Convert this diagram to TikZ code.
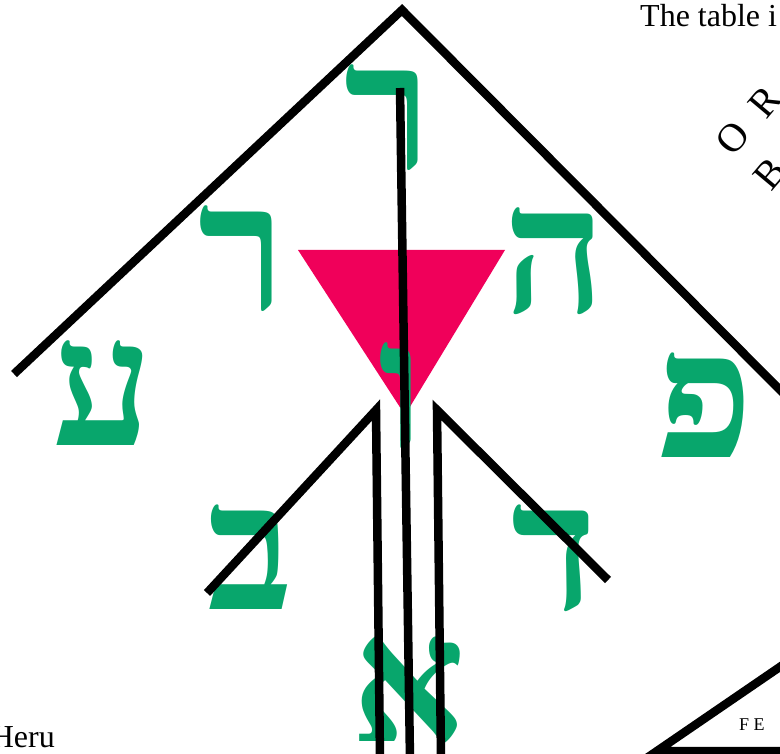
\documentclass[tikz,border=0pt]{standalone}
\usepackage{fontspec}
\setmainfont{Liberation Serif}
\newfontfamily\hebfont[Script=Hebrew]{Liberation Serif}
\TeXXeTstate=1
\usetikzlibrary{positioning}
\definecolor{lettergreen}{RGB}{8,166,108}
\definecolor{trimagenta}{RGB}{240,0,90}

\begin{document}
\begin{tikzpicture}[x=1pt,y=-1pt,
    heb/.style={text=lettergreen, inner sep=0pt, font=\hebfont\bfseries\fontsize{178}{178}\selectfont},
    bar/.style={line width=8.5pt, black},
    txt/.style={inner sep=0pt, font=\fontsize{32}{34}\selectfont},
    rotl/.style={inner sep=0pt, font=\fontsize{40}{40}\selectfont}
]
\useasboundingbox (0,0) rectangle (780,754);

% triangle
\fill[trimagenta] (298,250) -- (505,250) -- (405,415) -- cycle;

% letters
\node[heb] (reshtop) at (388,118) {\beginR ר\endR};
\node[heb] (resh) at (242,259) {\beginR ר\endR};
\node[heb] (he) at (555,261) {\beginR ה\endR};
\node[heb] (ayin) at (103,393) {\beginR ע\endR};
\node[heb] (pe) at (705,405) {\beginR פ\endR};
\node[heb] (vav) at (401,396) {\beginR ו\endR};
\node[heb] (beth) at (250,557) {\beginR ב\endR};
\node[heb] (daleth) at (554,558) {\beginR ד\endR};
\node[heb] (aleph) at (409,690) {\beginR א\endR};

% lines
\coordinate (apex) at (402,10);
\coordinate (wingl) at (14,374);
\coordinate (wingr) at (790,400);
\coordinate (stemtop) at (400,88);
\coordinate (stembot) at (410,760);
\coordinate (armltop) at (376,410);
\coordinate (armlend) at (207,593);
\coordinate (armlbot) at (380,760);
\coordinate (armrtop) at (437,410);
\coordinate (armrend) at (608,580);
\coordinate (armrbot) at (441,760);
\draw[bar] (wingl) -- (apex) -- (wingr);
\draw[bar] (stemtop) -- (stembot);
\draw[bar] (armlend) -- (armltop) -- (armlbot);
\draw[bar] (armrend) -- (armrtop) -- (armrbot);

% corner pieces
\coordinate (cornerl) at (657,751);
\coordinate (cornerr) at (790,660);
\coordinate (cornerb) at (790,751);
\draw[bar] (cornerb) -- (cornerl) -- (cornerr);

% text
\node[txt, anchor=base west] (title) at (640,27) {The table i};
\node[txt, anchor=base east] (heru) at (55,747) {Heru};
\node[inner sep=0pt, font=\fontsize{18}{20}\selectfont, anchor=base west] (fe) at (739,730) {F E};
\node[rotl, rotate=50] (ltro) at (733,138) {O};
\node[rotl, rotate=50] (ltrr) at (765,102) {R};
\node[rotl, rotate=50] (ltrb) at (770,174) {B};
\end{tikzpicture}
\end{document}
